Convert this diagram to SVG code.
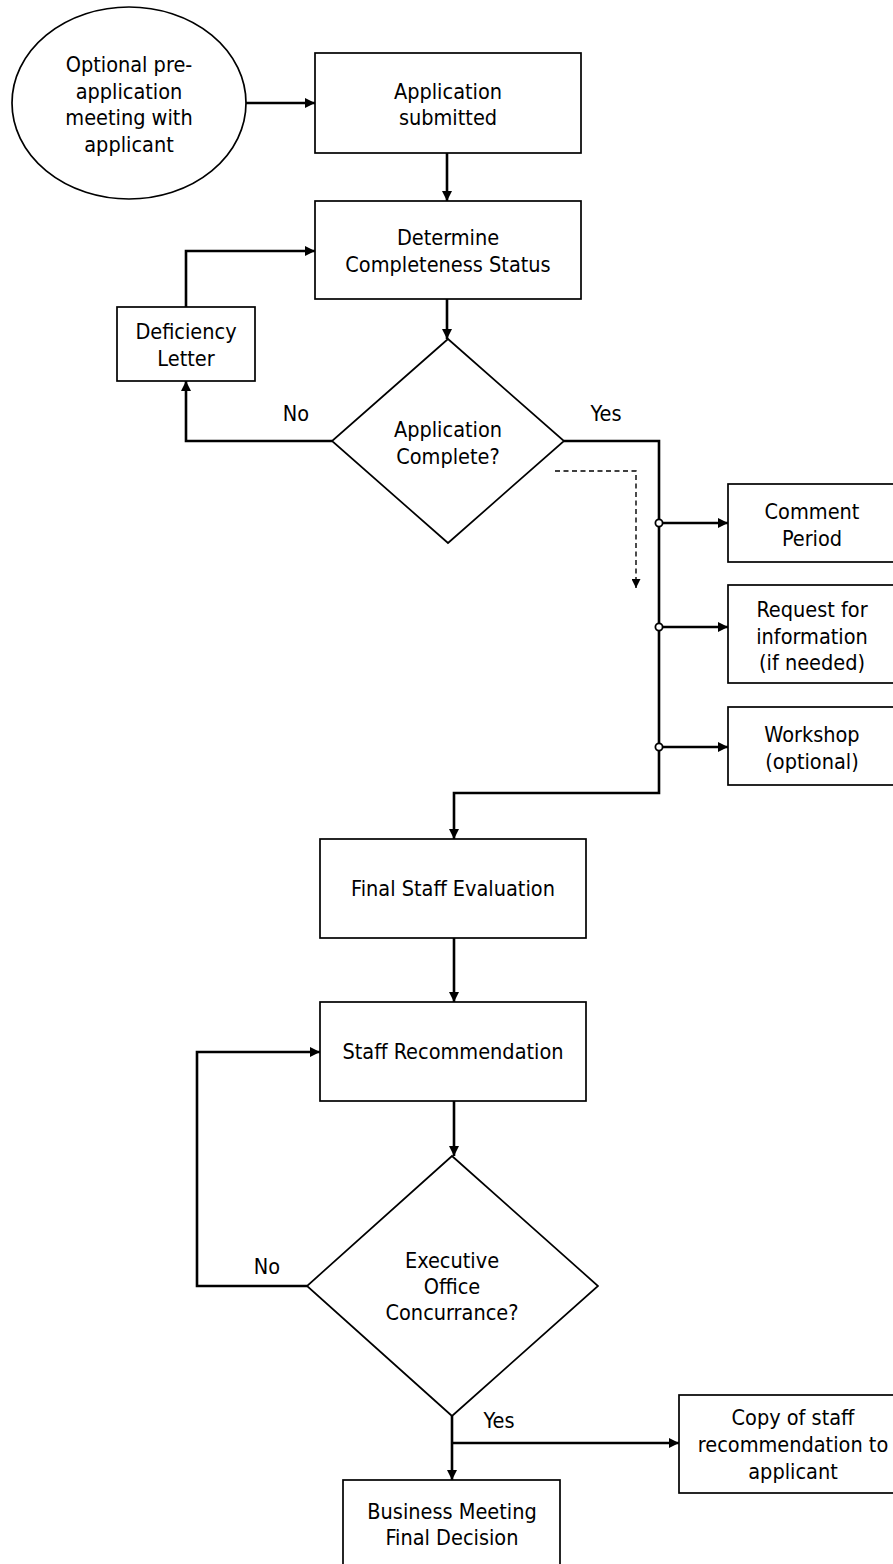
<svg xmlns="http://www.w3.org/2000/svg" width="893" height="1564" viewBox="0 0 893 1564">
<defs>
<style>
.shape{fill:#fff;stroke:#000;stroke-width:1.7}
.conn{fill:none;stroke:#000;stroke-width:2.6}
.dash{fill:none;stroke:#000;stroke-width:1.4;stroke-dasharray:5,3.5}
.dot{fill:#fff;stroke:#000;stroke-width:1.8}
text{font-family:"DejaVu Sans Condensed","DejaVu Sans",Verdana,sans-serif;font-stretch:condensed;font-size:21.5px;fill:#000;text-anchor:middle}
</style>
<marker id="ah" viewBox="0 0 10 10" refX="10" refY="5" markerWidth="12" markerHeight="10" markerUnits="userSpaceOnUse" orient="auto">
<path d="M0,0 L10,5 L0,10 Z" fill="#000"/>
</marker>
<marker id="ahs" viewBox="0 0 10 10" refX="10" refY="5" markerWidth="10" markerHeight="9" markerUnits="userSpaceOnUse" orient="auto">
<path d="M0,0 L10,5 L0,10 Z" fill="#000"/>
</marker>
</defs>
<rect width="893" height="1564" fill="#fff"/>

<g id="connectors">
<path class="conn" d="M246,103 H315" marker-end="url(#ah)"/>
<path class="conn" d="M447,153 V201" marker-end="url(#ah)"/>
<path class="conn" d="M447,299 V339" marker-end="url(#ah)"/>
<path class="conn" d="M332,441 H186 V381" marker-end="url(#ah)"/>
<path class="conn" d="M186,307 V251 H315" marker-end="url(#ah)"/>
<path class="conn" d="M564,441 H659 V793 H454 V839" marker-end="url(#ah)"/>
<path class="conn" d="M659,523 H728" marker-end="url(#ah)"/>
<path class="conn" d="M659,627 H728" marker-end="url(#ah)"/>
<path class="conn" d="M659,747 H728" marker-end="url(#ah)"/>
<path class="dash" d="M555,471 H636 V588" marker-end="url(#ahs)"/>
<path class="conn" d="M454,938 V1002" marker-end="url(#ah)"/>
<path class="conn" d="M454,1101 V1156" marker-end="url(#ah)"/>
<path class="conn" d="M307,1286 H197 V1052 H320" marker-end="url(#ah)"/>
<path class="conn" d="M452,1416 V1480" marker-end="url(#ah)"/>
<path class="conn" d="M452,1443 H679" marker-end="url(#ah)"/>
<circle class="dot" cx="659" cy="523" r="3.6"/>
<circle class="dot" cx="659" cy="627" r="3.6"/>
<circle class="dot" cx="659" cy="747" r="3.6"/>
<text x="296" y="421">No</text>
<text x="606" y="421">Yes</text>
<text x="267" y="1274">No</text>
<text x="499" y="1428">Yes</text>
</g>

<g id="pre-application">
<ellipse class="shape" cx="129" cy="103" rx="117" ry="96"/>
<text x="129" y="72">Optional pre-</text>
<text x="129" y="99">application</text>
<text x="129" y="125">meeting with</text>
<text x="129" y="152">applicant</text>
</g>

<g id="application-submitted">
<rect class="shape" x="315" y="53" width="266" height="100"/>
<text x="448" y="99">Application</text>
<text x="448" y="125">submitted</text>
</g>

<g id="determine-completeness">
<rect class="shape" x="315" y="201" width="266" height="98"/>
<text x="448" y="245">Determine</text>
<text x="448" y="272">Completeness Status</text>
</g>

<g id="deficiency-letter">
<rect class="shape" x="117" y="307" width="138" height="74"/>
<text x="186" y="339">Deficiency</text>
<text x="186" y="366">Letter</text>
</g>

<g id="application-complete">
<polygon class="shape" points="448,339 564,441 448,543 332,441"/>
<text x="448" y="437">Application</text>
<text x="448" y="464">Complete?</text>
</g>

<g id="comment-period">
<rect class="shape" x="728" y="484" width="170" height="78"/>
<text x="812" y="519">Comment</text>
<text x="812" y="546">Period</text>
</g>

<g id="request-information">
<rect class="shape" x="728" y="585" width="170" height="98"/>
<text x="812" y="617">Request for</text>
<text x="812" y="644">information</text>
<text x="812" y="670">(if needed)</text>
</g>

<g id="workshop">
<rect class="shape" x="728" y="707" width="170" height="78"/>
<text x="812" y="742">Workshop</text>
<text x="812" y="769">(optional)</text>
</g>

<g id="final-staff-evaluation">
<rect class="shape" x="320" y="839" width="266" height="99"/>
<text x="453" y="896">Final Staff Evaluation</text>
</g>

<g id="staff-recommendation">
<rect class="shape" x="320" y="1002" width="266" height="99"/>
<text x="453" y="1059">Staff Recommendation</text>
</g>

<g id="executive-concurrance">
<polygon class="shape" points="452,1156 598,1286 452,1416 307,1286"/>
<text x="452" y="1268">Executive</text>
<text x="452" y="1294">Office</text>
<text x="452" y="1320">Concurrance?</text>
</g>

<g id="copy-to-applicant">
<rect class="shape" x="679" y="1395" width="220" height="98"/>
<text x="793" y="1425">Copy of staff</text>
<text x="793" y="1452">recommendation to</text>
<text x="793" y="1479">applicant</text>
</g>

<g id="business-meeting">
<rect class="shape" x="343" y="1480" width="217" height="95"/>
<text x="452" y="1519">Business Meeting</text>
<text x="452" y="1545">Final Decision</text>
</g>
</svg>
